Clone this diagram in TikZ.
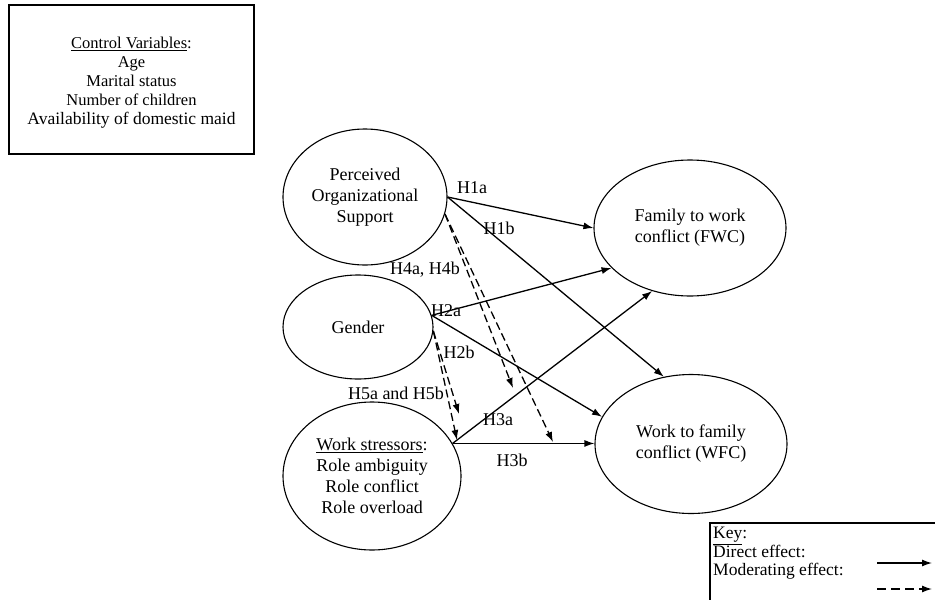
\documentclass[tikz,border=0pt]{standalone}
\usepackage{fontspec}
\setmainfont{Liberation Serif}
\usetikzlibrary{shapes.geometric,arrows.meta,calc}
\begin{document}
\begin{tikzpicture}[x=1pt,y=-1pt,
  ell/.style={draw, ellipse, line width=1.1pt, inner sep=0pt, align=center, font=\fontsize{18}{21}\selectfont},
  boxnode/.style={draw, line width=1.1pt, inner sep=0pt},
  lbl/.style={font=\fontsize{18}{21}\selectfont, inner sep=0pt},
  direct/.style={line width=1.3pt, -{Latex[length=10pt,width=7pt]}},
  moder/.style={line width=1.3pt, dash pattern=on 8pt off 4pt, -{Latex[length=10pt,width=7pt]}},
]
\useasboundingbox (0,0) rectangle (935,600);
\clip (0,0) rectangle (935,600);

% control variables box
\node (ctrl) [boxnode, minimum width=245pt, minimum height=149pt] at (131.5,79.5) {};
\node (ctrltxt) [align=center, inner sep=0pt, font=\fontsize{16.5}{19}\selectfont] at (131.5,82.5)
  {\underline{Control Variables}:\\Age\\Marital status\\Number of children\\{\fontsize{17.5}{19}\selectfont Availability of domestic maid}};

% constructs
\node (pos) [ell, minimum width=164pt, minimum height=136pt] at (365,197) {Perceived\\Organizational\\Support};
\node (gen) [ell, minimum width=150pt, minimum height=104pt] at (358,327) {Gender};
\node (ws)  [ell, minimum width=178pt, minimum height=148pt] at (372,476) {\underline{Work stressors}:\\Role ambiguity\\Role conflict\\Role overload};
\node (fwc) [ell, minimum width=192pt, minimum height=136pt] at (690,228) {Family to work\\conflict (FWC)};
\node (wfc) [ell, minimum width=192pt, minimum height=139pt] at (691,444) {Work to family\\conflict (WFC)};

% free ends of moderating arrows
\coordinate (h4a) at (513,388);
\coordinate (h4b) at (553,442);
\coordinate (h5a) at (459,414);
\coordinate (h5b) at (457,440);

% direct effects
\draw[direct] (pos.east) -- (fwc.west);
\draw[direct] (pos.east) -- (wfc.112);
\draw[direct] (gen.9) -- (fwc.207);
\draw[direct] (gen.9) -- (wfc.163);
\draw[direct] (ws.22) -- (fwc.239);
\draw[direct] (ws.22) -- (ws.22 -| wfc.west);

% moderating effects
\draw[moder] (pos.-12) -- (h4a);
\draw[moder] (pos.-12) -- (h4b);
\draw[moder] (gen.-3) -- (h5a);
\draw[moder] (gen.-3) -- (h5b);

% labels
\node (l1a) [lbl] at (472,188) {H1a};
\node (l1b) [lbl] at (499,228) {H1b};
\node (l4) [lbl] at (425,270) {H4a, H4b};
\node (l2a) [lbl] at (446,311) {H2a};
\node (l2b) [lbl] at (459,352) {H2b};
\node (l5) [lbl] at (396,393) {H5a and H5b};
\node (l3a) [lbl] at (498,420) {H3a};
\node (l3b) [lbl] at (512,460) {H3b};

% key
\draw[line width=1.1pt] (710,640) |- (960,523);
\node (key) [anchor=north west, align=left, inner sep=0pt, font=\fontsize{17.5}{18.5}\selectfont] at (713,527)
  {\underline{Key}:\\Direct effect:\\Moderating effect:};
\coordinate (k1s) at (877,563);
\coordinate (k1e) at (932,563);
\coordinate (k2s) at (877,589);
\coordinate (k2e) at (932,589);
\draw[direct] (k1s) -- (k1e);
\draw[moder, dash pattern=on 9pt off 5pt] (k2s) -- (k2e);
\end{tikzpicture}
\end{document}
